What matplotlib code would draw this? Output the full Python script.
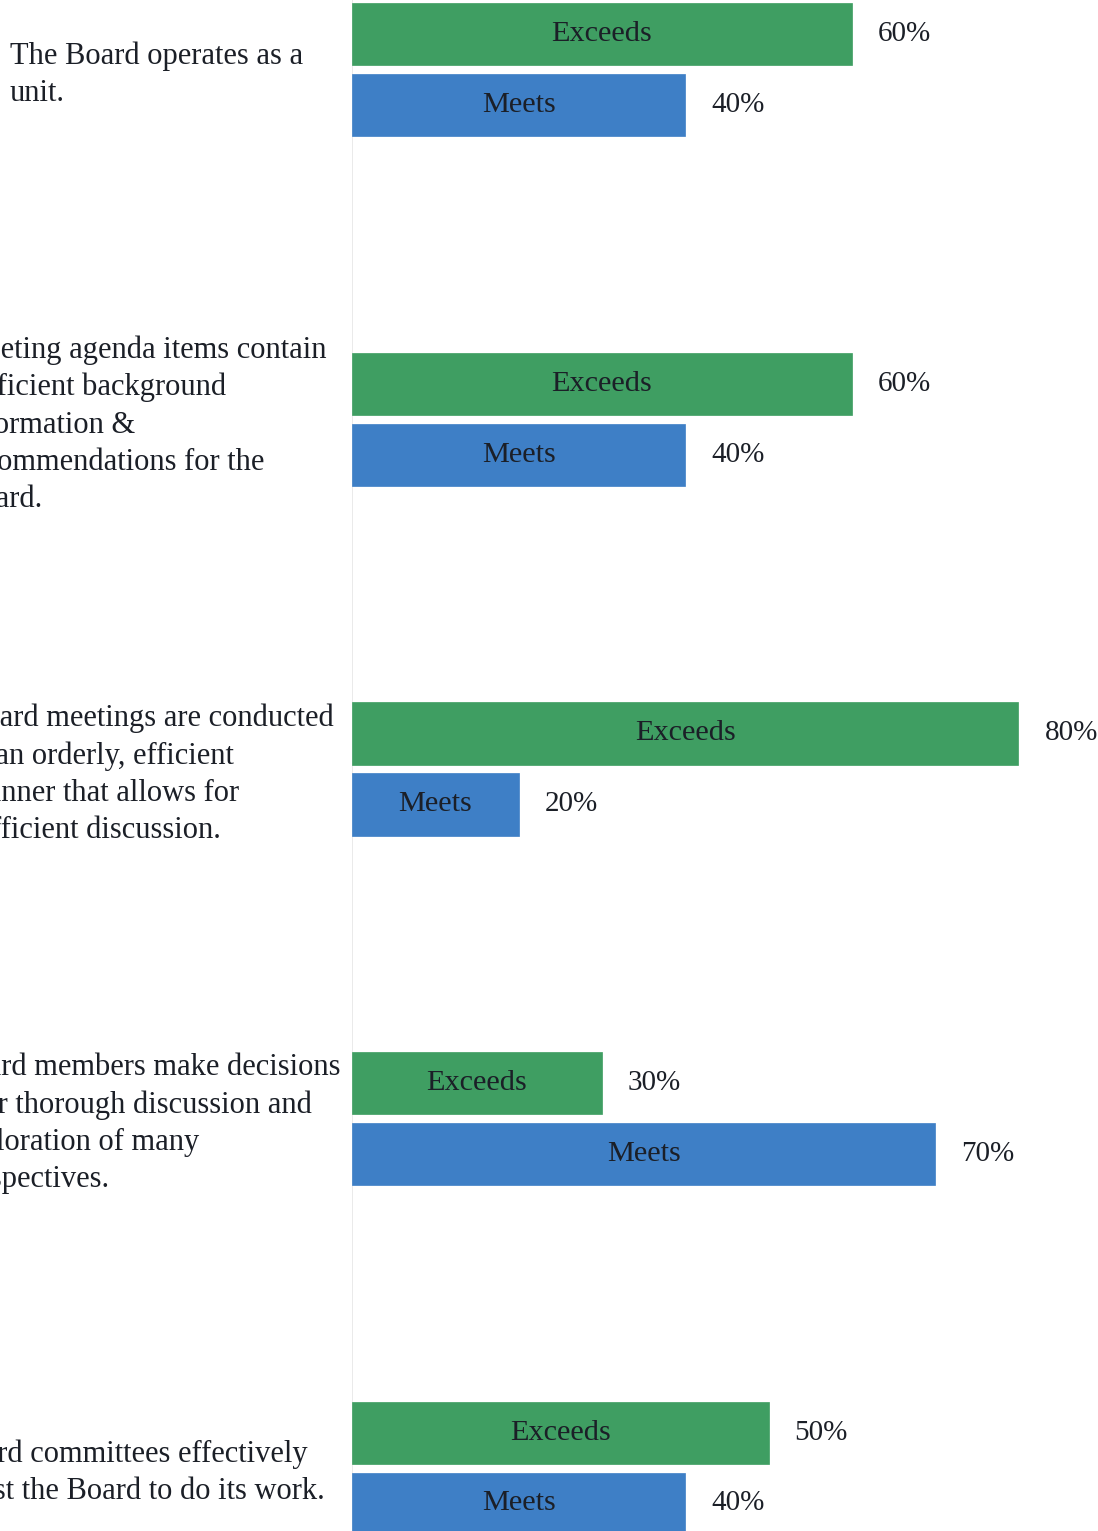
import matplotlib
matplotlib.use("Agg")
import matplotlib.pyplot as plt
from matplotlib.transforms import blended_transform_factory

# ---- data ----
statements = [
    "The Board operates as a\nunit.",
    "Meeting agenda items contain\nsufficient background\ninformation &\nrecommendations for the\nBoard.",
    "Board meetings are conducted\nin an orderly, efficient\nmanner that allows for\nsufficient discussion.",
    "Board members make decisions\nafter thorough discussion and\nexploration of many\nperspectives.",
    "Board committees effectively\nassist the Board to do its work.",
]
exceeds = [60, 60, 80, 30, 50]
meets = [40, 40, 20, 70, 40]
series_labels = ["Exceeds", "Meets"]

# ---- style / layout ----
W, H = 1098, 1531
plt.rcParams['font.family'] = ['Liberation Serif', 'DejaVu Serif']
GREEN = "#3f9e62"
BLUE = "#3e7fc6"
TXT = "#1b1f27"

fig = plt.figure(figsize=(W / 100, H / 100), dpi=100)
fig.patch.set_facecolor("white")
ax_left_px = 352
ax = fig.add_axes([ax_left_px / W, 0, (W - ax_left_px) / W, 1])
px_per_pct = 8.33
ax.set_xlim(0, (W - ax_left_px) / px_per_pct)
grp_px = 349.5
top_center_px = 70
ax.set_ylim((H - top_center_px) / grp_px, -top_center_px / grp_px)
ax.axis("off")

bar_h = 62 / grp_px
off = 35.5 / grp_px
n = len(statements)
ys = list(range(n))

ax.axvline(0, color="#e6e6e6", lw=1.2, zorder=0)

for i in ys:
    for val, col, lab, dy in ((exceeds[i], GREEN, series_labels[0], -off),
                              (meets[i], BLUE, series_labels[1], off)):
        y = i + dy
        ax.barh(y, val, height=bar_h, color=col, edgecolor=col, lw=0.5, zorder=2)
        ax.text(val / 2, y, lab, ha="center", va="center", fontsize=21.8,
                color=TXT, zorder=3)
        ax.annotate(f"{val}%", xy=(val, y), xytext=(26, 0),
                    textcoords="offset pixels", ha="left", va="center",
                    fontsize=21, color=TXT)

# statements on the left (partially cut off by the page edge, as in the scan)
left_x_px = [10, -40, -36, -48, -52]
tr = blended_transform_factory(fig.transFigure, ax.transData)
for i, s in enumerate(statements):
    ax.text(left_x_px[i] / W, i + 5 / grp_px, s, transform=tr, ha="left",
            va="center", fontsize=22, color=TXT, linespacing=1.37,
            clip_on=False)

fig.savefig("out.png", dpi=100)
